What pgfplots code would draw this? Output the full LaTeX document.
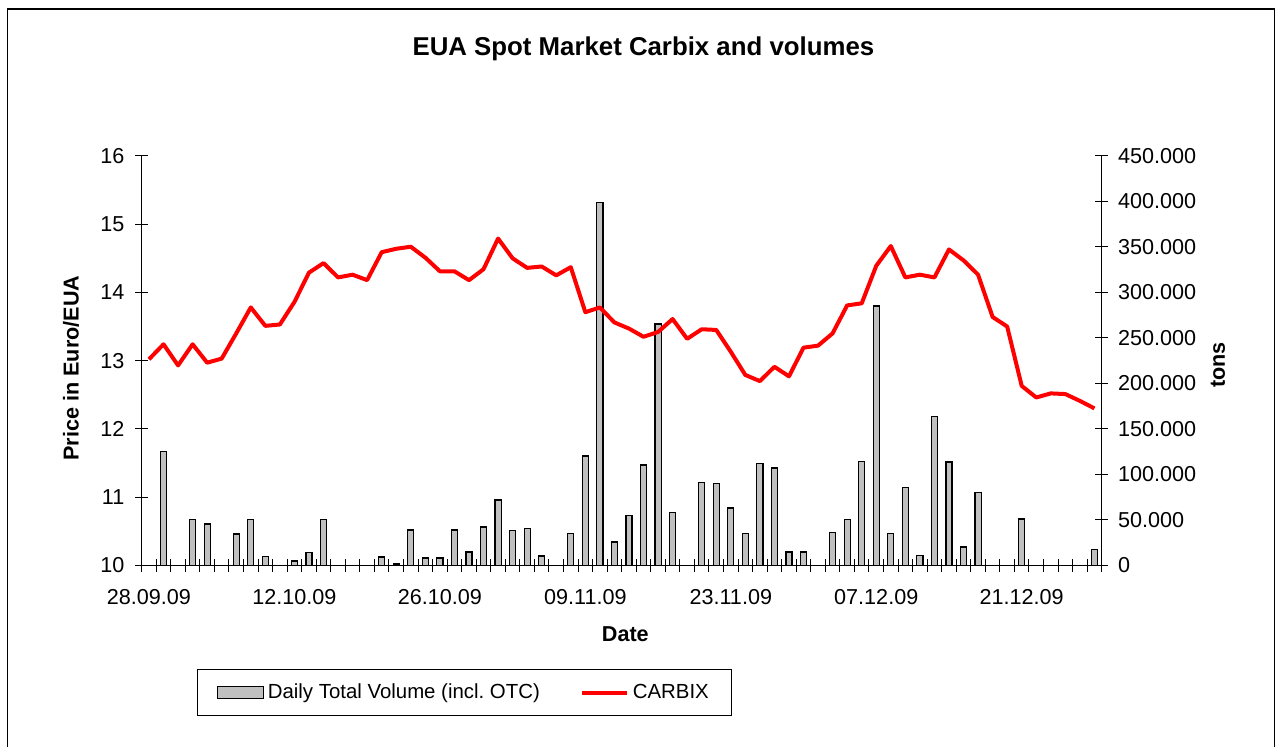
\documentclass[border=0pt]{standalone}
\usepackage{fontspec}
\setmainfont{Liberation Sans}
\usepackage{pgfplots}
\pgfplotsset{compat=1.18}
\definecolor{bargray}{RGB}{192,192,192}
\definecolor{carbixred}{RGB}{255,0,0}
\pgfplotsset{
  myline legend/.style={legend image code/.code={\draw[##1] (0pt,0pt) -- (22.5pt,0pt);}},
  mybar legend/.style={legend image code/.code={\draw[fill=bargray, draw=black, line width=0.6pt] (0pt,-3pt) rectangle (23pt,3pt);}},
}

\pgfplotstableread{
k vol
1 125000
3 50000
4 45400
6 34500
7 50000
8 9900
10 4800
11 14300
12 50000
16 9200
17 1500
18 38800
19 8100
20 8100
21 38800
22 14700
23 42100
24 71800
25 38100
26 40300
27 10300
29 34800
30 120200
31 398800
32 25700
33 55000
34 110300
35 265300
36 57900
38 90900
39 90200
40 63000
41 34800
42 112100
43 107000
44 14700
45 14700
47 36300
48 50000
49 114000
50 285100
51 34800
52 85400
53 11000
54 163500
55 113600
56 20200
57 80300
60 50900
65 17200
}\voltable

\pgfplotstableread{
k price
0 13.02
1 13.24
2 12.93
3 13.24
4 12.97
5 13.03
6 13.40
7 13.78
8 13.51
9 13.53
10 13.86
11 14.29
12 14.43
13 14.22
14 14.26
15 14.18
16 14.59
17 14.64
18 14.67
19 14.51
20 14.31
21 14.31
22 14.18
23 14.34
24 14.79
25 14.50
26 14.36
27 14.38
28 14.25
29 14.37
30 13.71
31 13.78
32 13.56
33 13.47
34 13.35
35 13.42
36 13.61
37 13.32
38 13.46
39 13.45
40 13.13
41 12.79
42 12.70
43 12.91
44 12.77
45 13.19
46 13.22
47 13.40
48 13.81
49 13.84
50 14.39
51 14.68
52 14.22
53 14.26
54 14.22
55 14.63
56 14.47
57 14.26
58 13.64
59 13.50
60 12.63
61 12.46
62 12.52
63 12.51
64 12.41
65 12.30
}\pricetable

\begin{document}
\begin{tikzpicture}
\useasboundingbox (-70.85pt,-90.85pt) rectangle (567.65pt,282.65pt);
\draw[line width=0.7pt] (-67.2pt,-100pt) -- (-67.2pt,278.15pt) -- (566.3pt,278.15pt) -- (566.3pt,-100pt);
\node[font=\fontsize{12.9pt}{15pt}\selectfont\bfseries, anchor=base] at (250.85pt,255pt) {EUA Spot Market Carbix and volumes};

% volumes (right axis)
\begin{axis}[
  at={(0pt,0pt)}, anchor=south west,
  scale only axis, width=480pt, height=204.65pt,
  xmin=-0.5, xmax=65.5, ymin=0, ymax=450000,
  axis x line=none, axis y line*=right,
  axis line style={-, line width=0.6pt},
  scaled y ticks=false,
  ytick={0,50000,100000,150000,200000,250000,300000,350000,400000,450000},
  yticklabels={0,50.000,100.000,150.000,200.000,250.000,300.000,350.000,400.000,450.000},
  tick align=center, major tick length=6.35pt,
  tick style={line width=0.5pt, black},
  yticklabel style={font=\fontsize{10.8pt}{13pt}\selectfont, anchor=west, xshift=1.5pt},
  ylabel={\bfseries tons},
  ylabel style={at={(axis description cs:1.1211,0.489)}, anchor=center, rotate=0, font=\fontsize{10.8pt}{13pt}\selectfont},
]
\addplot[ybar, bar width=0.42, fill=bargray, draw=black, line width=0.6pt] table[x=k, y=vol] {\voltable};
\end{axis}

% price (left axis)
\begin{axis}[
  at={(0pt,0pt)}, anchor=south west,
  scale only axis, width=480pt, height=204.65pt,
  xmin=-0.5, xmax=65.5, ymin=10, ymax=16,
  axis x line*=bottom, axis y line*=left,
  axis line style={-, line width=0.6pt},
  xtick={0,10,20,30,40,50,60},
  xticklabels={28.09.09,12.10.09,26.10.09,09.11.09,23.11.09,07.12.09,21.12.09},
  minor xtick={-0.5,0.5,...,65.5},
  major x tick style={draw=none},
  ytick={10,11,12,13,14,15,16},
  tick align=center, major tick length=6.35pt, minor tick length=6.35pt,
  tick style={line width=0.5pt, black},
  /pgf/number format/assume math mode=true,
  ticklabel style={font=\fontsize{10.8pt}{13pt}\selectfont},
  yticklabel style={xshift=-2pt},
  xticklabel style={yshift=-5.5pt},
  xlabel={\bfseries Date},
  xlabel style={at={(axis description cs:0.5038,-0.1867)}, anchor=base, font=\fontsize{10.8pt}{13pt}\selectfont},
  ylabel={\bfseries Price in Euro/EUA},
  ylabel style={at={(axis description cs:-0.0736,0.482)}, anchor=center, font=\fontsize{10.8pt}{13pt}\selectfont},
  legend style={at={(axis description cs:0.0576,-0.2534)}, anchor=north west, draw=black, line width=0.6pt,
    font=\fontsize{10.2pt}{12pt}\selectfont, inner xsep=9.5pt, inner ysep=5pt,
    /tikz/every even column/.append style={column sep=18pt}},
  legend columns=2, legend cell align=left,
]
\addlegendimage{mybar legend}
\addlegendentry{Daily Total Volume (incl.\ OTC)}
\addplot[color=carbixred, line width=2pt, line join=round, mark=none, myline legend] table[x=k, y=price] {\pricetable};
\addlegendentry{CARBIX}
\end{axis}
\end{tikzpicture}
\end{document}
